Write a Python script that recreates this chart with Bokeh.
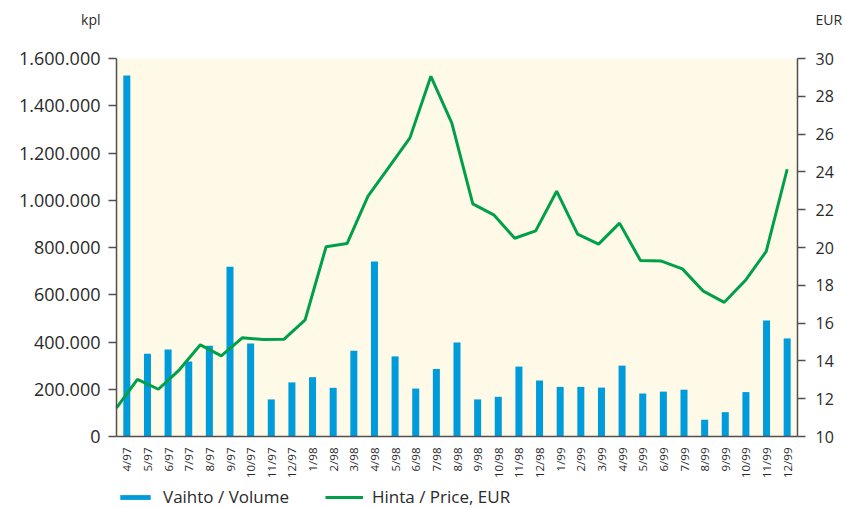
from bokeh.plotting import figure
from bokeh.models import (Range1d, LinearAxis, FixedTicker, Label, Legend, LegendItem,
                          ColumnDataSource, BoxAnnotation)
from bokeh.embed import file_html
from bokeh.resources import INLINE
import math

months = ["4/97", "5/97", "6/97", "7/97", "8/97", "9/97", "10/97", "11/97", "12/97",
          "1/98", "2/98", "3/98", "4/98", "5/98", "6/98", "7/98", "8/98", "9/98",
          "10/98", "11/98", "12/98", "1/99", "2/99", "3/99", "4/99", "5/99", "6/99",
          "7/99", "8/99", "9/99", "10/99", "11/99", "12/99"]
volume = [1528000, 350000, 368000, 317000, 384000, 718000, 394000, 157000, 229000,
          251000, 206000, 363000, 741000, 339000, 203000, 286000, 398000, 157000,
          168000, 296000, 237000, 210000, 210000, 207000, 300000, 182000, 190000,
          198000, 71000, 103000, 188000, 491000, 415000]
price = [11.52, 13.02, 12.5, 13.53, 14.85, 14.27, 15.22, 15.13, 15.15,
         16.17, 20.04, 20.21, 22.72, 24.25, 25.8, 29.06, 26.58, 22.31,
         21.73, 20.49, 20.88, 22.98, 20.71, 20.18, 21.29, 19.31, 19.28,
         18.87, 17.69, 17.1, 18.25, 19.79, 24.14]
vol_ticks = [0, 200000, 400000, 600000, 800000, 1000000, 1200000, 1400000, 1600000]
vol_tick_labels = ["0", "200.000", "400.000", "600.000", "800.000", "1.000.000",
                   "1.200.000", "1.400.000", "1.600.000"]
price_ticks = [10, 12, 14, 16, 18, 20, 22, 24, 26, 28, 30]

n = len(months)
VMAX = vol_ticks[-1]
PMIN, PMAX = price_ticks[0], price_ticks[-1]
bar_x = [i + 0.5 for i in range(n)]
line_x = [i * (n - 0.5) / (n - 1) for i in range(n)]

# layout in canvas pixels: the frame covers the whole canvas, axes are fixed inside
W, H = 845, 508
PX_L, PX_R, PY_B, PY_T = 116, 797, 436, 58


def px2x(px):
    return (px - PX_L) / (PX_R - PX_L) * n


def py2v(py):
    return (PY_B - py) / (PY_B - PY_T) * VMAX


def py2p(py):
    return PMIN + (PY_B - py) / (PY_B - PY_T) * (PMAX - PMIN)


FONT = "Open Sans"
TXT = "#2a2a2a"
AX = "#505050"

p = figure(width=W, height=H, x_range=Range1d(px2x(0), px2x(W)),
           y_range=Range1d(py2v(H), py2v(0)),
           output_backend="svg", toolbar_location=None, min_border=0)
p.extra_y_ranges = {"price": Range1d(py2p(H), py2p(0))}
p.background_fill_color = "white"
p.border_fill_color = "white"
p.outline_line_color = None
p.xgrid.grid_line_color = None
p.ygrid.grid_line_color = None

p.add_layout(BoxAnnotation(left=0, right=n, bottom=0, top=VMAX, fill_color="#FEFAE7",
                           fill_alpha=1, line_color=None, level="underlay"))

src_b = ColumnDataSource(dict(x=bar_x, v=volume))
src_l = ColumnDataSource(dict(x=line_x, pr=price))
bars = p.vbar(x="x", top="v", width=0.34, source=src_b, color="#009BDA", line_color=None)
line = p.line(x="x", y="pr", source=src_l, y_range_name="price", line_color="#00A04B",
              line_width=3)

# left axis
ya = p.yaxis[0]
ya.fixed_location = 0
ya.bounds = (0, VMAX)
ya.ticker = FixedTicker(ticks=vol_ticks)
ya.major_label_overrides = {t: l for t, l in zip(vol_ticks, vol_tick_labels)}
ya.major_tick_out = 8
ya.major_tick_in = 0
ya.minor_tick_line_color = None
ya.major_label_standoff = 8
ya.major_label_text_font = FONT
ya.major_label_text_font_size = "18px"
ya.major_label_text_color = TXT
ya.axis_line_color = AX
ya.axis_line_width = 1.5
ya.major_tick_line_color = AX
ya.major_tick_line_width = 1.5

# right axis
ra = LinearAxis(y_range_name="price", ticker=FixedTicker(ticks=price_ticks),
                fixed_location=n, bounds=(PMIN, PMAX))
ra.major_tick_out = 8
ra.major_tick_in = 0
ra.minor_tick_line_color = None
ra.major_label_standoff = 10
ra.major_label_text_font = FONT
ra.major_label_text_font_size = "16px"
ra.major_label_text_color = TXT
ra.axis_line_color = AX
ra.axis_line_width = 1.5
ra.major_tick_line_color = AX
ra.major_tick_line_width = 1.5
p.add_layout(ra, "right")

# bottom axis
xa = p.xaxis[0]
xa.fixed_location = 0
xa.bounds = (0, n)
xa.ticker = FixedTicker(ticks=bar_x)
xa.major_label_overrides = {x: m for x, m in zip(bar_x, months)}
xa.major_label_orientation = math.pi / 2
xa.major_tick_line_color = None
xa.minor_tick_line_color = None
xa.major_label_standoff = 5
xa.major_label_text_font = FONT
xa.major_label_text_font_size = "11.5px"
xa.major_label_text_color = TXT
xa.axis_line_color = AX
xa.axis_line_width = 1.5

# unit labels
p.add_layout(Label(x=px2x(100), y=py2v(19), text="kpl", text_align="right",
                   text_baseline="middle", text_font=FONT, text_font_size="14px",
                   text_color=TXT))
p.add_layout(Label(x=px2x(815), y=py2v(19), text="EUR", text_align="left",
                   text_baseline="middle", text_font=FONT, text_font_size="14px",
                   text_color=TXT))

legend = Legend(items=[LegendItem(label="Vaihto / Volume", renderers=[bars]),
                       LegendItem(label="Hinta / Price, EUR", renderers=[line])],
                orientation="horizontal", location=(PX_L, 0), padding=0, margin=0,
                spacing=36, glyph_width=38, glyph_height=6, label_standoff=9,
                label_text_font=FONT, label_text_font_size="17px", label_text_color=TXT,
                background_fill_alpha=0, border_line_color=None)
p.add_layout(legend)

open("out.html", "w").write(file_html(p, INLINE))
